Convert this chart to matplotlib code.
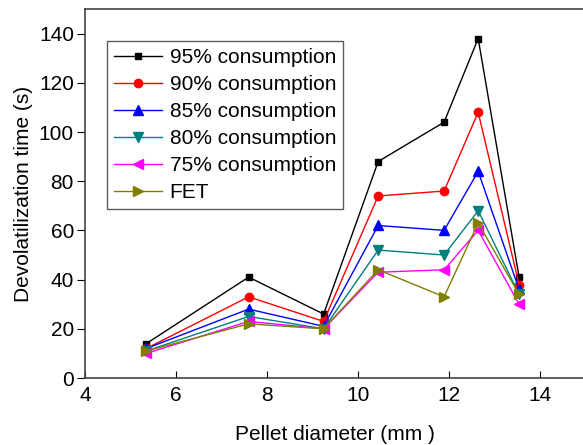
import matplotlib
matplotlib.use('Agg')
import matplotlib.pyplot as plt

plt.rcParams['font.family'] = ['Liberation Sans', 'DejaVu Sans']

diameter = [5.35, 7.6, 9.25, 10.45, 11.9, 12.65, 13.55]
c95 = [14, 41, 26, 88, 104, 138, 41]
c90 = [12, 33, 23, 74, 76, 108, 38]
c85 = [12, 28, 21, 62, 60, 84, 36]
c80 = [11, 25, 20, 52, 50, 68, 34]
c75 = [10, 23, 20, 43, 44, 60, 30]
fet = [11, 22, 20, 44, 33, 63, 34]

series = [
    (c95, '95% consumption', 'black', 's', 5),
    (c90, '90% consumption', 'red', 'o', 6),
    (c85, '85% consumption', 'blue', '^', 7.5),
    (c80, '80% consumption', '#007f7f', 'v', 7.5),
    (c75, '75% consumption', 'magenta', '<', 7.5),
    (fet, 'FET', '#7f7f00', '>', 7.5),
]

fig = plt.figure(figsize=(5.83, 4.45), dpi=100)
ax = fig.add_axes([85 / 583, 1 - 378 / 445, 500 / 583, 369 / 445])

for vals, lab, col, mk, ms in series:
    ax.plot(diameter, vals, color=col, marker=mk, markersize=ms, linewidth=1, label=lab)

ax.set_xlim(4, 15)
ax.set_ylim(0, 150)
ax.set_xticks([4, 6, 8, 10, 12, 14])
ax.set_yticks(range(0, 141, 20))
ax.tick_params(axis='x', direction='in', length=5, labelsize=15, pad=6)
ax.tick_params(axis='y', direction='out', length=6, labelsize=15, pad=2)
ax.spines['right'].set_visible(False)
for s in ['left', 'bottom', 'top']:
    ax.spines[s].set_color('#444444')
    ax.spines[s].set_linewidth(1.2)

ax.set_xlabel('Pellet diameter (mm )', fontsize=15, labelpad=14)
ax.set_ylabel('Devolatilization time (s)', fontsize=15, labelpad=4)

leg = ax.legend(loc='upper left', bbox_to_anchor=(0.044, 0.913), fontsize=15, frameon=True,
                fancybox=False, edgecolor='#333333', handlelength=2.3, handletextpad=0.35,
                labelspacing=0.38, borderpad=0.35, borderaxespad=0)
leg.get_frame().set_linewidth(1.0)

fig.savefig('out.png', dpi=100)
